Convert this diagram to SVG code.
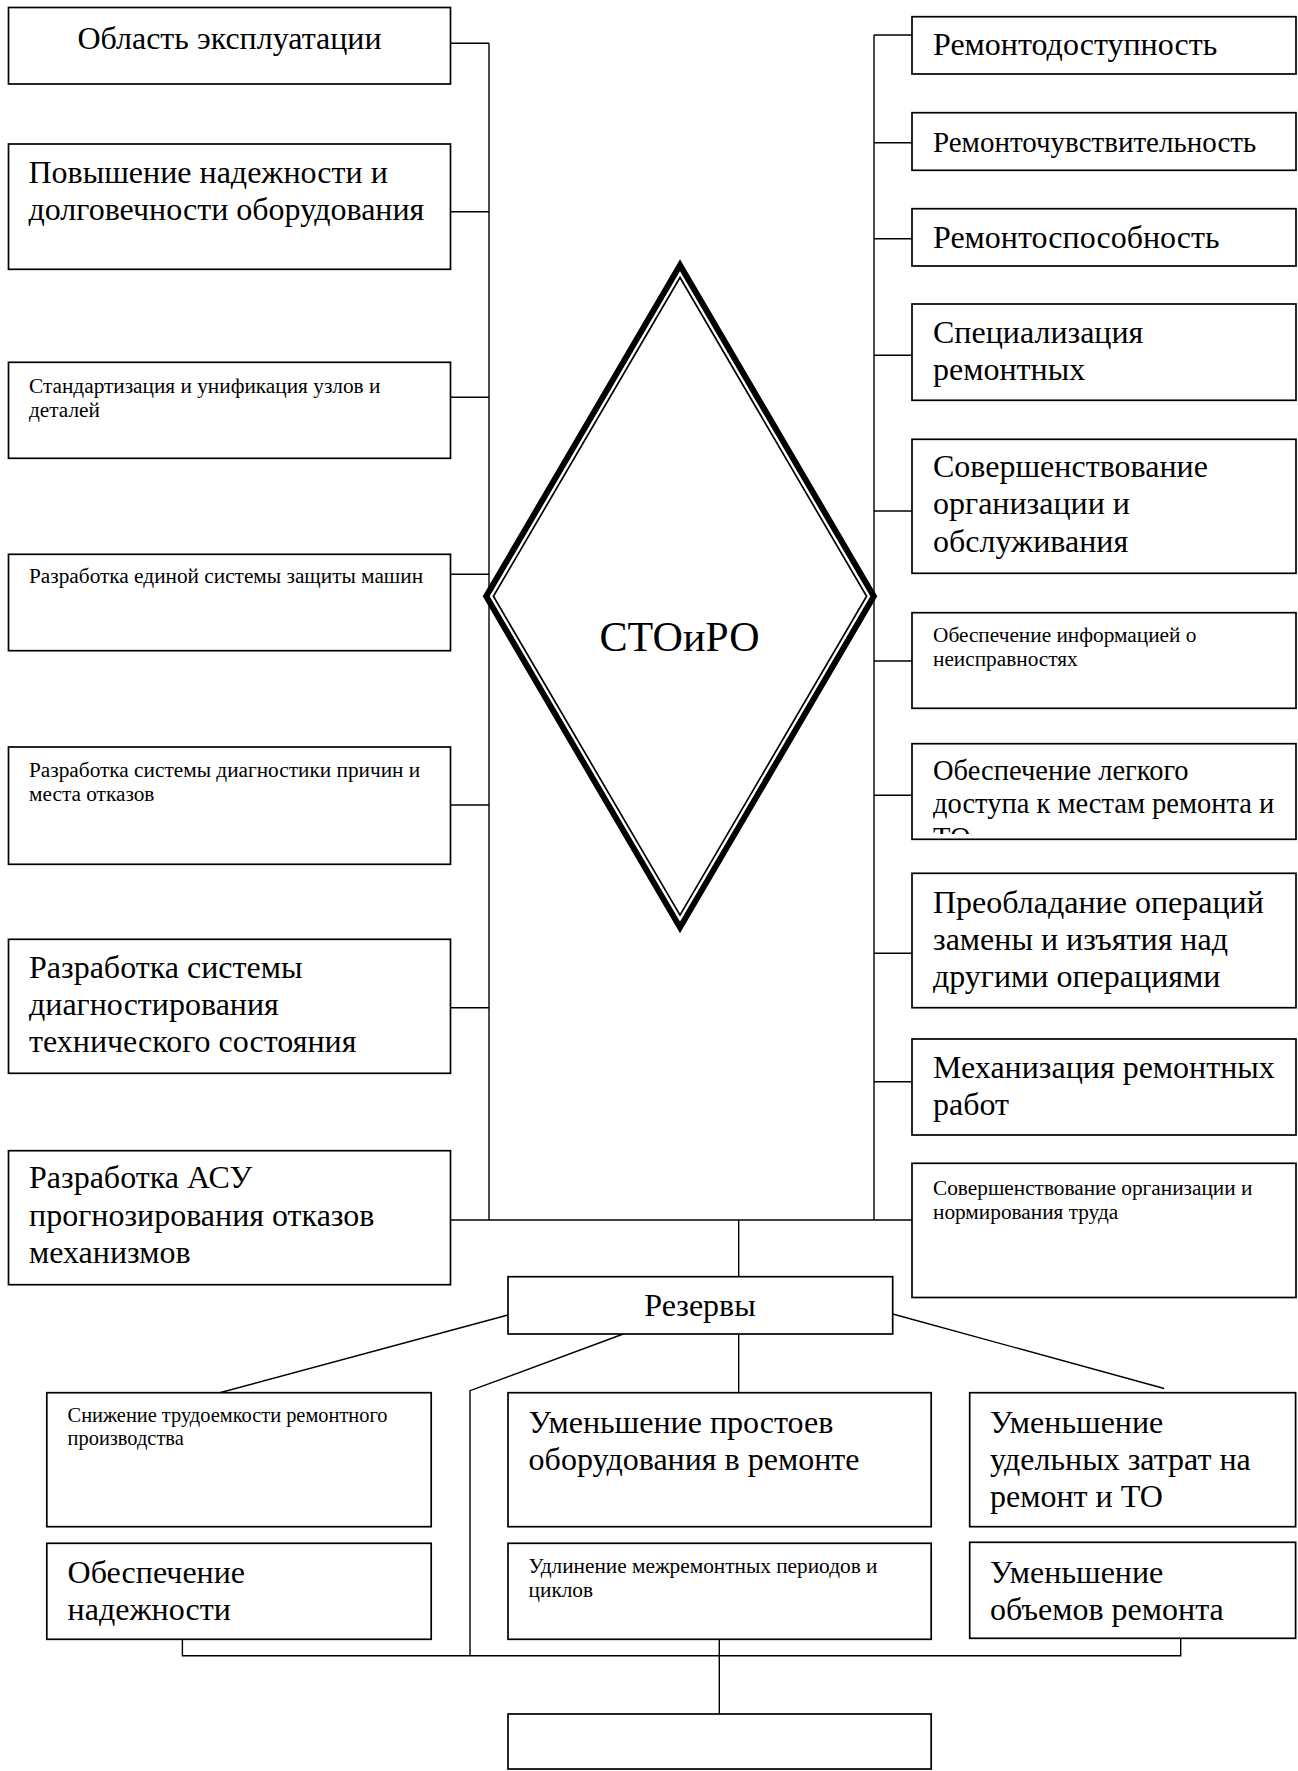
<svg xmlns="http://www.w3.org/2000/svg" width="1298" height="1771" viewBox="0 0 1298 1771">
<style>
.box{fill:#fff;stroke:#000;stroke-width:1.7}
.conn{fill:none;stroke:#000;stroke-width:1.4}
text{font-family:"Liberation Serif","Times New Roman",serif;fill:#000}
.big{font-size:32px}
.mid{font-size:29px}
.r7{font-size:28.5px}
.small{font-size:21.3px}
.small2{font-size:20.4px}
.center{font-size:42px}
</style>
<defs>
<clipPath id="clipR7"><rect x="912" y="743" width="384" height="91"/></clipPath>
</defs>
<rect width="1298" height="1771" fill="#fff"/>

<g id="connectors">
<polyline class="conn" points="489,43.3 489,1220"/>
<line class="conn" x1="450.5" y1="43.3" x2="489" y2="43.3"/>
<line class="conn" x1="450.5" y1="211.7" x2="489" y2="211.7"/>
<line class="conn" x1="450.5" y1="397.3" x2="489" y2="397.3"/>
<line class="conn" x1="450.5" y1="574.3" x2="489" y2="574.3"/>
<line class="conn" x1="450.5" y1="805" x2="489" y2="805"/>
<line class="conn" x1="450.5" y1="1007.7" x2="489" y2="1007.7"/>
<polyline class="conn" points="874,35 874,1220"/>
<line class="conn" x1="874" y1="35" x2="912" y2="35"/>
<line class="conn" x1="874" y1="142.7" x2="912" y2="142.7"/>
<line class="conn" x1="874" y1="238.7" x2="912" y2="238.7"/>
<line class="conn" x1="874" y1="355.3" x2="912" y2="355.3"/>
<line class="conn" x1="874" y1="511" x2="912" y2="511"/>
<line class="conn" x1="874" y1="661" x2="912" y2="661"/>
<line class="conn" x1="874" y1="795.3" x2="912" y2="795.3"/>
<line class="conn" x1="874" y1="953.3" x2="912" y2="953.3"/>
<line class="conn" x1="874" y1="1081.7" x2="912" y2="1081.7"/>
<line class="conn" x1="450.5" y1="1220" x2="912" y2="1220"/>
<line class="conn" x1="738.7" y1="1220" x2="738.7" y2="1276.7"/>
<line class="conn" x1="508" y1="1315" x2="219.7" y2="1392.7"/>
<polyline class="conn" points="623.3,1334 470,1390.7 470,1655.7"/>
<line class="conn" x1="738.7" y1="1334" x2="738.7" y2="1392.7"/>
<line class="conn" x1="892.7" y1="1314" x2="1164.2" y2="1388.5"/>
<polyline class="conn" points="182.4,1639.3 182.4,1655.7 1180.7,1655.7 1180.7,1638.3"/>
<line class="conn" x1="719.3" y1="1639.3" x2="719.3" y2="1714"/>
</g>

<g id="center">
<polygon points="680,265.2 486.2,596.3 680,927.4 873.8,596.3" fill="none" stroke="#000" stroke-width="6" stroke-miterlimit="10"/>
<polygon points="680,277.5 493.4,596.3 680,915.1 866.6,596.3" fill="none" stroke="#000" stroke-width="1.7" stroke-miterlimit="10"/>
<text class="center" x="679.5" y="650.7" text-anchor="middle">СТОиРО</text>
</g>

<g id="L1"><rect class="box" x="8.5" y="7.5" width="442" height="76.5"/>
<text class="big" x="229.5" y="49.3" text-anchor="middle">Область эксплуатации</text></g>
<g id="L2"><rect class="box" x="8.5" y="144" width="442" height="125.3"/>
<text class="big" x="28.5"><tspan x="28.5" y="182.7">Повышение надежности и</tspan><tspan x="28.5" y="220">долговечности оборудования</tspan></text></g>
<g id="L3"><rect class="box" x="8.5" y="362.3" width="442" height="96"/>
<text class="small" x="29"><tspan x="29" y="393">Стандартизация и унификация узлов и</tspan><tspan x="29" y="416.7">деталей</tspan></text></g>
<g id="L4"><rect class="box" x="8.5" y="554.3" width="442" height="96.4"/>
<text class="small" x="29" y="583.3">Разработка единой системы защиты машин</text></g>
<g id="L5"><rect class="box" x="8.5" y="747" width="442" height="117.3"/>
<text class="small" x="29"><tspan x="29" y="777.3">Разработка системы диагностики причин и</tspan><tspan x="29" y="800.5">места отказов</tspan></text></g>
<g id="L6"><rect class="box" x="8.5" y="939.3" width="442" height="134"/>
<text class="big" x="29"><tspan x="29" y="978.3">Разработка системы</tspan><tspan x="29" y="1015">диагностирования</tspan><tspan x="29" y="1051.7">технического состояния</tspan></text></g>
<g id="L7"><rect class="box" x="8.5" y="1150.7" width="442" height="134"/>
<text class="big" x="29"><tspan x="29" y="1188.3">Разработка АСУ</tspan><tspan x="29" y="1225.5">прогнозирования отказов</tspan><tspan x="29" y="1262.7">механизмов</tspan></text></g>

<g id="R1"><rect class="box" x="912" y="16.7" width="384" height="57.3"/>
<text class="big" x="933" y="55">Ремонтодоступность</text></g>
<g id="R2"><rect class="box" x="912" y="112.7" width="384" height="57.6"/>
<text class="mid" x="933" y="151.7">Ремонточувствительность</text></g>
<g id="R3"><rect class="box" x="912" y="208.7" width="384" height="57.3"/>
<text class="big" x="933" y="248">Ремонтоспособность</text></g>
<g id="R4"><rect class="box" x="912" y="304" width="384" height="96.3"/>
<text class="big" x="933"><tspan x="933" y="343">Специализация</tspan><tspan x="933" y="380">ремонтных</tspan></text></g>
<g id="R5"><rect class="box" x="912" y="439.3" width="384" height="134"/>
<text class="big" x="933"><tspan x="933" y="477.3">Совершенствование</tspan><tspan x="933" y="514">организации и</tspan><tspan x="933" y="551.7">обслуживания</tspan></text></g>
<g id="R6"><rect class="box" x="912" y="612.7" width="384" height="95.6"/>
<text class="small" x="933"><tspan x="933" y="641.7">Обеспечение информацией о</tspan><tspan x="933" y="665.5">неисправностях</tspan></text></g>
<g id="R7"><rect class="box" x="912" y="743.7" width="384" height="95.6"/>
<text class="r7" x="933" clip-path="url(#clipR7)"><tspan x="933" y="780">Обеспечение легкого</tspan><tspan x="933" y="813.3">доступа к местам ремонта и</tspan><tspan x="933" y="846.6">ТО</tspan></text></g>
<g id="R8"><rect class="box" x="912" y="873.3" width="384" height="134.4"/>
<text class="big" x="933"><tspan x="933" y="913.3">Преобладание операций</tspan><tspan x="933" y="950">замены и изъятия над</tspan><tspan x="933" y="986.7">другими операциями</tspan></text></g>
<g id="R9"><rect class="box" x="912" y="1039" width="384" height="96"/>
<text class="big" x="933"><tspan x="933" y="1078.3">Механизация ремонтных</tspan><tspan x="933" y="1115">работ</tspan></text></g>
<g id="R10"><rect class="box" x="912" y="1163.3" width="384" height="134.2"/>
<text class="small" x="933"><tspan x="933" y="1195">Совершенствование организации и</tspan><tspan x="933" y="1218.5">нормирования труда</tspan></text></g>

<g id="reserves"><rect class="box" x="508" y="1276.7" width="384.7" height="57.3"/>
<text class="big" x="700" y="1316" text-anchor="middle">Резервы</text></g>

<g id="B1"><rect class="box" x="46.8" y="1392.7" width="384.4" height="134"/>
<text class="small2" x="67.6"><tspan x="67.6" y="1421.7">Снижение трудоемкости ремонтного</tspan><tspan x="67.6" y="1445">производства</tspan></text></g>
<g id="B2"><rect class="box" x="508" y="1392.7" width="423.2" height="134"/>
<text class="big" x="528.6"><tspan x="528.6" y="1433">Уменьшение простоев</tspan><tspan x="528.6" y="1470">оборудования в ремонте</tspan></text></g>
<g id="B3"><rect class="box" x="969.7" y="1392.7" width="325.9" height="134"/>
<text class="big" x="990"><tspan x="990" y="1433.3">Уменьшение</tspan><tspan x="990" y="1470">удельных затрат на</tspan><tspan x="990" y="1506.7">ремонт и ТО</tspan></text></g>
<g id="B4"><rect class="box" x="46.8" y="1543.3" width="384.4" height="96"/>
<text class="big" x="67.6"><tspan x="67.6" y="1582.7">Обеспечение</tspan><tspan x="67.6" y="1620">надежности</tspan></text></g>
<g id="B5"><rect class="box" x="508" y="1543.3" width="423.2" height="96"/>
<text class="small" x="528.6"><tspan x="528.6" y="1573.3">Удлинение межремонтных периодов и</tspan><tspan x="528.6" y="1596.7">циклов</tspan></text></g>
<g id="B6"><rect class="box" x="969.7" y="1542.3" width="325.9" height="96"/>
<text class="big" x="990"><tspan x="990" y="1582.7">Уменьшение</tspan><tspan x="990" y="1620">объемов ремонта</tspan></text></g>
<g id="B7"><rect class="box" x="508" y="1714" width="423.2" height="55"/></g>
</svg>
